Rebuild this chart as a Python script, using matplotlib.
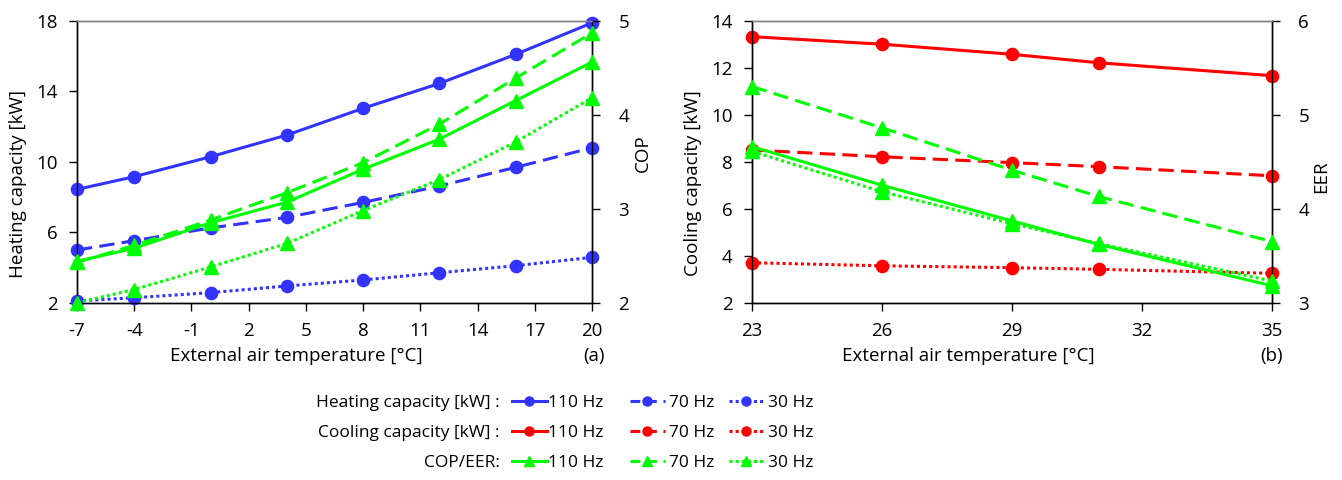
import matplotlib
matplotlib.use("Agg")
import matplotlib.pyplot as plt
from matplotlib.lines import Line2D

plt.rcParams['font.family'] = ['Open Sans', 'DejaVu Sans']
plt.rcParams['axes.unicode_minus'] = False

# ---- data ----
t_heat = [-7, -4, 0, 4, 8, 12, 16, 20]
heat_110 = [8.43, 9.15, 10.28, 11.51, 13.03, 14.44, 16.09, 17.88]
heat_70 = [4.99, 5.52, 6.24, 6.84, 7.69, 8.62, 9.68, 10.79]
heat_30 = [2.10, 2.28, 2.57, 2.95, 3.29, 3.70, 4.10, 4.57]
cop_110 = [2.44, 2.58, 2.85, 3.07, 3.42, 3.74, 4.15, 4.56]
cop_70 = [2.43, 2.61, 2.88, 3.17, 3.49, 3.90, 4.39, 4.87]
cop_30 = [2.00, 2.14, 2.38, 2.63, 2.98, 3.31, 3.71, 4.18]

t_cool = [23, 26, 29, 31, 35]
cool_110 = [13.32, 13.00, 12.57, 12.21, 11.66]
cool_70 = [8.50, 8.21, 7.96, 7.79, 7.40]
cool_30 = [3.70, 3.57, 3.49, 3.42, 3.25]
eer_110 = [4.66, 4.25, 3.87, 3.62, 3.18]
eer_70 = [5.30, 4.86, 4.41, 4.13, 3.65]
eer_30 = [4.61, 4.18, 3.84, 3.63, 3.23]

heat_xticks = [-7, -4, -1, 2, 5, 8, 11, 14, 17, 20]
heat_yticks = [2, 6, 10, 14, 18]
cop_yticks = [2, 3, 4, 5]
cool_xticks = [23, 26, 29, 32, 35]
cool_yticks = [2, 4, 6, 8, 10, 12, 14]
eer_yticks = [3, 4, 5, 6]

freq_labels = ['110 Hz', '70 Hz', '30 Hz']
row_labels = ['Heating capacity [kW] :', 'Cooling capacity [kW] :', 'COP/EER:']

BLUE = '#3333FF'
RED = '#FF0000'
GREEN = '#00FF00'
styles = ['-', (0, (5, 2.4)), (0, (1, 1))]
leg_styles = ['-', (0, (3.2, 2.2)), (0, (1, 1))]

W, H = 1342, 480
fig = plt.figure(figsize=(W / 100, H / 100), dpi=100)

def rect(x0, x1, y0, y1):
    return [x0 / W, 1 - y1 / H, (x1 - x0) / W, (y1 - y0) / H]

def ftext(x, y, s, **kw):
    return fig.text(x / W, 1 - y / H, s, **kw)

FS = 13.5
LFS = 12.5
LW = 2.2
MS = 8.8

def style_axes(ax, ax2):
    for a in (ax, ax2):
        a.spines['top'].set_color('#808080')
        a.spines['top'].set_linewidth(1.0)
        for s in ('left', 'right', 'bottom'):
            a.spines[s].set_color('black')
            a.spines[s].set_linewidth(1.0)
        a.tick_params(direction='out', length=6, width=1.0, labelsize=FS, colors='black')
    ax.tick_params(axis='y', pad=8)
    ax2.tick_params(axis='y', pad=13)
    ax.tick_params(axis='x', pad=8)

# ---- left panel ----
axL = fig.add_axes(rect(77, 592, 20.7, 302.7))
axL2 = axL.twinx()
for y, ls in zip([heat_110, heat_70, heat_30], styles):
    axL.plot(t_heat, y, color=BLUE, lw=LW, ls=ls, marker='o', ms=MS, clip_on=False, zorder=3)
for y, ls in zip([cop_110, cop_70, cop_30], styles):
    axL2.plot(t_heat, y, color=GREEN, lw=LW, ls=ls, marker='^', ms=MS + 1, clip_on=False, zorder=3)
axL.set_xlim(-7, 20)
axL.set_ylim(2, 18)
axL2.set_ylim(2, 5)
axL.set_xticks(heat_xticks)
axL.set_yticks(heat_yticks)
axL2.set_yticks(cop_yticks)
style_axes(axL, axL2)
ftext(18.5, 184, 'Heating capacity [kW]', fontsize=FS, rotation=90, ha='center', va='center')
ftext(643, 153, 'COP', fontsize=FS, rotation=90, ha='center', va='center')
ftext(296, 356, 'External air temperature [°C]', fontsize=FS, ha='center', va='center')
ftext(605, 356, '(a)', fontsize=FS, ha='right', va='center')

# ---- right panel ----
axR = fig.add_axes(rect(752, 1272, 20.7, 302.7))
axR2 = axR.twinx()
for y, ls in zip([cool_110, cool_70, cool_30], styles):
    axR.plot(t_cool, y, color=RED, lw=LW, ls=ls, marker='o', ms=MS, clip_on=False, zorder=3)
for y, ls in zip([eer_110, eer_70, eer_30], styles):
    axR2.plot(t_cool, y, color=GREEN, lw=LW, ls=ls, marker='^', ms=MS + 1, clip_on=False, zorder=3)
axR.set_xlim(23, 35)
axR.set_ylim(2, 14)
axR2.set_ylim(3, 6)
axR.set_xticks(cool_xticks)
axR.set_yticks(cool_yticks)
axR2.set_yticks(eer_yticks)
style_axes(axR, axR2)
ftext(693, 183, 'Cooling capacity [kW]', fontsize=FS, rotation=90, ha='center', va='center')
ftext(1321, 177, 'EER', fontsize=FS, rotation=90, ha='center', va='center')
ftext(968, 356, 'External air temperature [°C]', fontsize=FS, ha='center', va='center')
ftext(1283, 356, '(b)', fontsize=FS, ha='right', va='center')

# ---- legend ----
row_y = [403, 433, 463]
col_x = [512, 630, 729]
row_specs = [(BLUE, 'o'), (RED, 'o'), (GREEN, '^')]
for r, ((col, mk), rl) in enumerate(zip(row_specs, row_labels)):
    ftext(500, row_y[r], rl, fontsize=LFS, ha='right', va='center')
    for c, (ls, fl) in enumerate(zip(leg_styles, freq_labels)):
        h = Line2D([], [], color=col, lw=LW, ls=ls, marker=mk, ms=6.5)
        fig.legend([h], [fl], loc='center left',
                   bbox_to_anchor=(col_x[c] / W, 1 - row_y[r] / H), frameon=False,
                   fontsize=LFS, handlelength=2.0, handletextpad=0.25 if c else 0.05,
                   borderpad=0, borderaxespad=0)

fig.savefig('out.png', dpi=100)
